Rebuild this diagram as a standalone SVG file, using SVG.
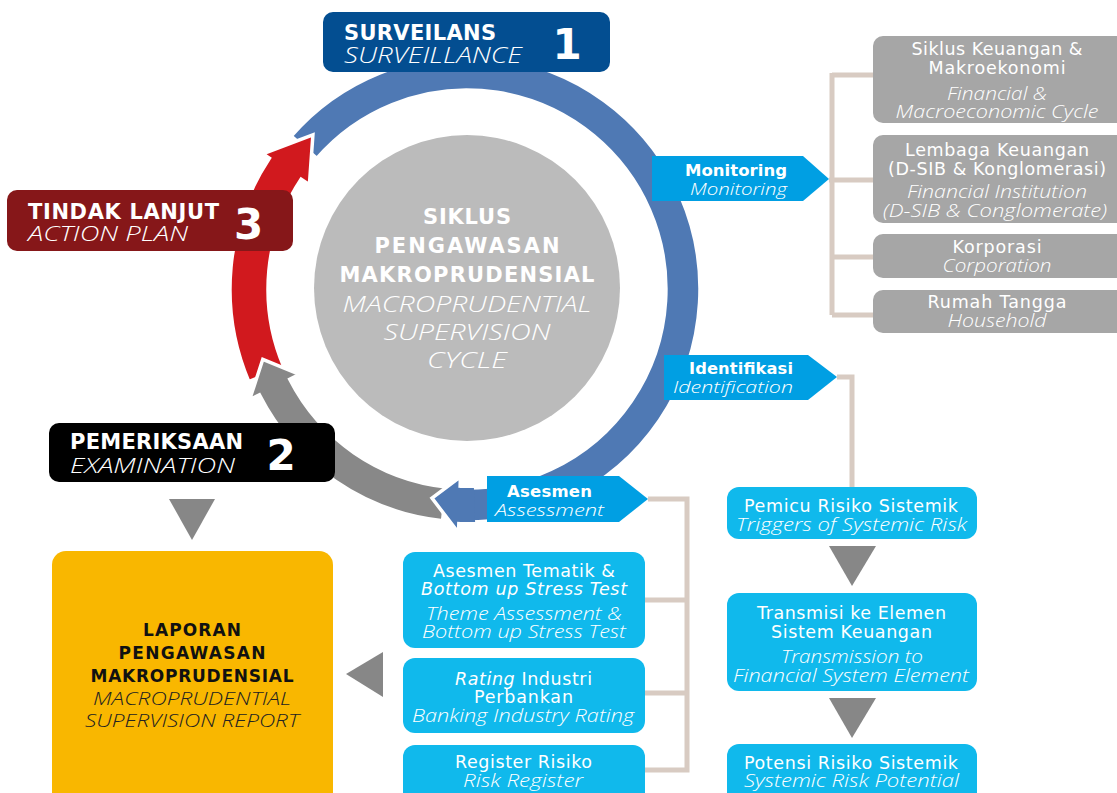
<svg xmlns="http://www.w3.org/2000/svg" width="1117" height="793" viewBox="0 0 1117 793">
<style>
.b{font-family:"DejaVu Sans",sans-serif;font-weight:bold}
.r{font-family:"DejaVu Sans",sans-serif}
.ro{font-style:italic}
.i{font-family:"Open Sans","DejaVu Sans",sans-serif;font-style:italic;font-weight:300}
.w{fill:#fff}
.c{text-anchor:middle}
.ln{fill:none;stroke:#d8cbc2;stroke-width:5}
.tri{fill:#878787}
.ring{stroke:#fff;stroke-width:3.5;stroke-linejoin:miter}
.lbl{fill:#009fe3}
.cy{fill:#10b9ec}
.gy{fill:#a6a6a6}
</style>
<rect width="1117" height="793" fill="#fff"/>

<g id="cycle-ring">
<path class="ring" fill="#4f79b4" d="M 291.2,136.1 A 233 233 0 1 1 458.9,521.9 L 458.5,532.9 L 432,498.1 L 460.4,476.9 L 460.1,487.9 A 199 199 0 1 0 316.8,158.4 Z"/>
<path class="ring" fill="#d1191e" d="M 248.8,381.6 A 237 237 0 0 1 269.4,158.2 L 262.7,153.8 L 312.9,134.9 L 309.4,184.7 L 301.1,179.2 A 199 199 0 0 0 283.8,366.7 Z"/>
<path class="ring" fill="#888888" d="M 442.6,520.7 A 233 233 0 0 1 259.4,394.8 L 249.6,399.8 L 262.8,359.3 L 299.5,374.4 L 289.7,379.3 A 199 199 0 0 0 446.2,486.9 Z"/>
<path fill="#4f79b4" d="M 475.1,521.9 A 233 233 0 0 1 458.9,521.9 L 458.5,532.9 L 432,498.1 L 460.4,476.9 L 460.1,487.9 A 199 199 0 0 0 473.9,487.9 Z"/>
<path fill="none" stroke="#fff" stroke-width="3.5" d="M 458.9,521.9 L 458.5,532.9 L 432,498.1 L 460.4,476.9 L 460.1,487.9"/>
</g>

<g id="center">
<circle cx="467" cy="288" r="153" fill="#bbbbbb"/>
<text class="b w c" x="467" y="224" font-size="21" textLength="88">SIKLUS</text>
<text class="b w c" x="467" y="253" font-size="21" textLength="185">PENGAWASAN</text>
<text class="b w c" x="467" y="282" font-size="21" textLength="255">MAKROPRUDENSIAL</text>
<text class="i w c" x="467" y="312" font-size="21.5" textLength="249" lengthAdjust="spacingAndGlyphs">MACROPRUDENTIAL</text>
<text class="i w c" x="467" y="340" font-size="21.5" textLength="167" lengthAdjust="spacingAndGlyphs">SUPERVISION</text>
<text class="i w c" x="467" y="368" font-size="21.5" textLength="80" lengthAdjust="spacingAndGlyphs">CYCLE</text>
</g>

<g id="connectors">
<path class="ln" d="M 829,180 H 873 M 832,73 V 315 M 832,75 H 873 M 832,257 H 873 M 832,315 H 873"/>
<path class="ln" d="M 837,377 H 852 V 487"/>
<path class="ln" d="M 648,499 H 687 V 770 H 645 M 645,600 H 687 M 645,693 H 687"/>
<polygon class="tri" points="169,499 215,499 192,540"/>
<polygon class="tri" points="383,652 383,697 346,674"/>
<polygon class="tri" points="829,546 876,546 852,586"/>
<polygon class="tri" points="829,698 876,698 852,738"/>
</g>

<g id="surveilans">
<rect x="323" y="12" width="287" height="60" rx="10" fill="#034e91"/>
<text class="b w" x="344" y="40" font-size="21" textLength="152">SURVEILANS</text>
<text class="i w" x="344" y="63" font-size="22" textLength="178" lengthAdjust="spacingAndGlyphs">SURVEILLANCE</text>
<text class="b w c" x="567" y="59" font-size="42">1</text>
</g>

<g id="tindak-lanjut">
<rect x="7" y="190" width="286" height="61" rx="10" fill="#861719"/>
<text class="b w" x="28" y="219" font-size="21" textLength="191">TINDAK LANJUT</text>
<text class="i w" x="28" y="241" font-size="21" textLength="160" lengthAdjust="spacingAndGlyphs">ACTION PLAN</text>
<text class="b w c" x="248.5" y="239" font-size="42">3</text>
</g>

<g id="pemeriksaan">
<rect x="49" y="423" width="286" height="59" rx="10" fill="#000"/>
<text class="b w" x="70" y="449" font-size="21" textLength="173">PEMERIKSAAN</text>
<text class="i w" x="70" y="473" font-size="21" textLength="165" lengthAdjust="spacingAndGlyphs">EXAMINATION</text>
<text class="b w c" x="281" y="470" font-size="42">2</text>
</g>

<g id="monitoring">
<path class="lbl" d="M 652,156 H 803 L 829,179 L 803,201 H 652 Z"/>
<text class="b w c" x="736" y="176" font-size="16.5" textLength="102">Monitoring</text>
<text class="i w c" x="738.5" y="195" font-size="17" textLength="97" lengthAdjust="spacingAndGlyphs">Monitoring</text>
</g>

<g id="identifikasi">
<path class="lbl" d="M 664,355 H 808 L 837,377 L 808,400 H 664 Z"/>
<text class="b w" x="689" y="374" font-size="16.3" textLength="104">Identifikasi</text>
<text class="i w" x="673" y="393" font-size="17" textLength="120" lengthAdjust="spacingAndGlyphs">Identification</text>
</g>

<g id="asesmen">
<path class="lbl" d="M 487,476 H 619 L 648,499 L 619,522 H 487 Z"/>
<text class="b w c" x="549.5" y="497" font-size="16.5" textLength="85">Asesmen</text>
<text class="i w c" x="549.5" y="516" font-size="17" textLength="109" lengthAdjust="spacingAndGlyphs">Assessment</text>
</g>

<g id="siklus-keuangan">
<rect class="gy" x="873" y="36" width="260" height="87" rx="10"/>
<text class="r w c" x="997" y="55" font-size="17.5" textLength="171">Siklus Keuangan &amp;</text>
<text class="r w c" x="997" y="74" font-size="17.5" textLength="137">Makroekonomi</text>
<text class="i w c" x="997" y="100" font-size="17.5" textLength="100" lengthAdjust="spacingAndGlyphs">Financial &amp;</text>
<text class="i w c" x="997" y="118" font-size="17.5" textLength="203" lengthAdjust="spacingAndGlyphs">Macroeconomic Cycle</text>
</g>

<g id="lembaga-keuangan">
<rect class="gy" x="873" y="135" width="260" height="88" rx="10"/>
<text class="r w c" x="997" y="156" font-size="17.5" textLength="184">Lembaga Keuangan</text>
<text class="r w c" x="997" y="175" font-size="17.5" textLength="218">(D-SIB &amp; Konglomerasi)</text>
<text class="i w c" x="997" y="198" font-size="17.5" textLength="180" lengthAdjust="spacingAndGlyphs">Financial Institution</text>
<text class="i w c" x="995" y="217" font-size="17.5" textLength="224" lengthAdjust="spacingAndGlyphs">(D-SIB &amp; Conglomerate)</text>
</g>

<g id="korporasi">
<rect class="gy" x="873" y="234" width="260" height="44" rx="10"/>
<text class="r w c" x="997" y="253" font-size="17.5" textLength="89">Korporasi</text>
<text class="i w c" x="997" y="272" font-size="17.5" textLength="109" lengthAdjust="spacingAndGlyphs">Corporation</text>
</g>

<g id="rumah-tangga">
<rect class="gy" x="873" y="290" width="260" height="43" rx="10"/>
<text class="r w c" x="997" y="308" font-size="17.5" textLength="139">Rumah Tangga</text>
<text class="i w c" x="997" y="327" font-size="17.5" textLength="99" lengthAdjust="spacingAndGlyphs">Household</text>
</g>

<g id="pemicu">
<rect class="cy" x="727" y="487" width="250" height="52" rx="12"/>
<text class="r w c" x="851" y="512" font-size="17.5" textLength="214">Pemicu Risiko Sistemik</text>
<text class="i w c" x="851.5" y="531" font-size="17.5" textLength="231" lengthAdjust="spacingAndGlyphs">Triggers of Systemic Risk</text>
</g>

<g id="transmisi">
<rect class="cy" x="727" y="593" width="250" height="98" rx="12"/>
<text class="r w c" x="851.5" y="619" font-size="17.5" textLength="189">Transmisi ke Elemen</text>
<text class="r w c" x="851.5" y="638" font-size="17.5" textLength="161">Sistem Keuangan</text>
<text class="i w c" x="852" y="663" font-size="17.5" textLength="142" lengthAdjust="spacingAndGlyphs">Transmission to</text>
<text class="i w c" x="851" y="682" font-size="17.5" textLength="236" lengthAdjust="spacingAndGlyphs">Financial System Element</text>
</g>

<g id="potensi">
<rect class="cy" x="727" y="744" width="250" height="70" rx="12"/>
<text class="r w c" x="851" y="769" font-size="17.5" textLength="214">Potensi Risiko Sistemik</text>
<text class="i w c" x="851.5" y="787" font-size="17.5" textLength="215" lengthAdjust="spacingAndGlyphs">Systemic Risk Potential</text>
</g>

<g id="asesmen-tematik">
<rect class="cy" x="403" y="552" width="242" height="96" rx="12"/>
<text class="r w c" x="524" y="577" font-size="17.5" textLength="182">Asesmen Tematik &amp;</text>
<text class="r ro w c" x="524" y="595" font-size="17.5" textLength="206">Bottom up Stress Test</text>
<text class="i w c" x="524" y="620" font-size="17.5" textLength="196" lengthAdjust="spacingAndGlyphs">Theme Assessment &amp;</text>
<text class="i w c" x="524" y="638" font-size="17.5" textLength="204" lengthAdjust="spacingAndGlyphs">Bottom up Stress Test</text>
</g>

<g id="rating">
<rect class="cy" x="403" y="658" width="242" height="75" rx="12"/>
<text class="r w c" x="523.5" y="685" font-size="17.5" textLength="137"><tspan class="ro">Rating</tspan> Industri</text>
<text class="r w c" x="523.5" y="703" font-size="17.5" textLength="99">Perbankan</text>
<text class="i w c" x="523" y="722" font-size="17.5" textLength="222" lengthAdjust="spacingAndGlyphs">Banking Industry Rating</text>
</g>

<g id="register-risiko">
<rect class="cy" x="403" y="745" width="242" height="70" rx="12"/>
<text class="r w c" x="523.5" y="768" font-size="17.5" textLength="137">Register Risiko</text>
<text class="i w c" x="523" y="787" font-size="17.5" textLength="120" lengthAdjust="spacingAndGlyphs">Risk Register</text>
</g>

<g id="laporan">
<rect x="52" y="551" width="281" height="262" rx="14" fill="#f9b700"/>
<text class="b c" x="192" y="636" font-size="17" fill="#111" textLength="98">LAPORAN</text>
<text class="b c" x="192" y="659" font-size="17" fill="#111" textLength="147">PENGAWASAN</text>
<text class="b c" x="192" y="682" font-size="17" fill="#111" textLength="203">MAKROPRUDENSIAL</text>
<text class="i c" x="192" y="705" font-size="18" fill="#222" textLength="198" lengthAdjust="spacingAndGlyphs">MACROPRUDENTIAL</text>
<text class="i c" x="192" y="727" font-size="18" fill="#222" textLength="214" lengthAdjust="spacingAndGlyphs">SUPERVISION REPORT</text>
</g>
</svg>
